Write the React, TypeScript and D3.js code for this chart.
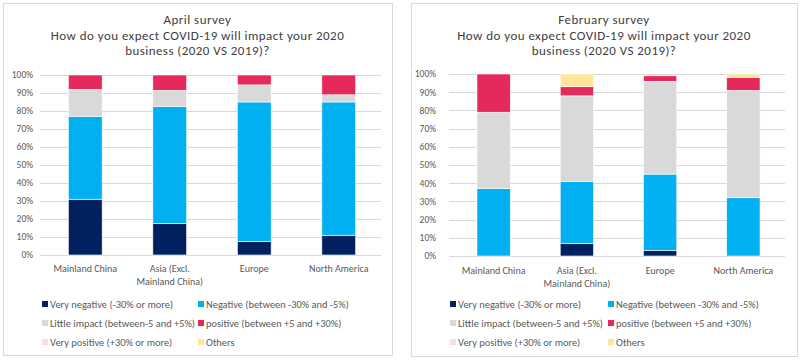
import React from 'react';
import * as d3 from 'd3';

const regionLabels = [['Mainland China'], ['Asia (Excl.', 'Mainland China)'], ['Europe'], ['North America']];
const regions = ['Mainland China', 'Asia (Excl. Mainland China)', 'Europe', 'North America'];

const seriesNames = [
  'Very negative (-30% or more)',
  'Negative (between -30% and -5%)',
  'Little impact (between-5 and +5%)',
  'positive (between +5 and +30%)',
  'Very positive (+30% or more)',
  'Others',
];
const seriesColors = ['#002060', '#00B0F0', '#D9D9D9', '#E6295B', '#FADCE4', '#FFE699'];

// April survey
const aprilVeryNegative = [31, 17.5, 7.5, 11];
const aprilNegative = [46, 65, 77.5, 74];
const aprilLittle = [15, 9, 9.5, 4];
const aprilPositive = [8, 8.5, 5.5, 11];
const aprilVeryPositive = [0, 0, 0, 0];
const aprilOthers = [0, 0, 0, 0];

// February survey
const febVeryNegative = [0, 7, 3, 0];
const febNegative = [37, 34, 42, 32];
const febLittle = [42, 47, 51, 59];
const febPositive = [21, 5, 3, 7];
const febVeryPositive = [0, 0, 0, 0];
const febOthers = [0, 7, 0, 2];

const yTicks = [0, 10, 20, 30, 40, 50, 60, 70, 80, 90, 100];

const FONT = 'Calibri, Carlito, Lato, sans-serif';
const TEXT = '#595959';

interface Layout {
  box: [number, number, number, number];
  plotX: [number, number];
  plotY: [number, number];
  tickEnd: number;
  catY: number;
  legendX: [number, number];
  legendY: number[];
}

interface PanelProps {
  title: string[];
  series: number[][];
  layout: Layout;
}

const Panel: React.FC<PanelProps> = ({ title, series, layout }) => {
  const [bx, by, bw, bh] = layout.box;
  const x = d3.scaleBand<string>().domain(regions).range(layout.plotX).paddingInner(0.6).paddingOuter(0.3);
  const y = d3.scaleLinear().domain([0, 100]).range(layout.plotY);

  const rows = regions.map((r, i) => {
    const row: Record<string, number | string> = { region: r };
    seriesNames.forEach((s, k) => (row[s] = series[k][i]));
    return row;
  });
  const stacked = d3.stack<Record<string, number | string>>().keys(seriesNames)(rows);
  const cx = bx + bw / 2;

  return (
    <g>
      <rect x={bx + 0.5} y={by + 0.5} width={bw} height={bh} fill="#fff" stroke="#D9D9D9" />
      {title.map((t, i) => (
        <text key={i} x={cx} y={by + 16.5 + i * 15.6} dy="0.35em" textAnchor="middle" fontSize={13} letterSpacing={0.45} fill="#404040">
          {t}
        </text>
      ))}
      {yTicks.map((t) => (
        <g key={t}>
          <line x1={layout.plotX[0] - 3} x2={layout.plotX[1]} y1={Math.round(y(t)) + 0.5} y2={Math.round(y(t)) + 0.5} stroke="#D9D9D9" />
          <text x={layout.tickEnd} y={y(t)} dy="0.35em" textAnchor="end" fontSize={9.5} fill={TEXT}>
            {t}%
          </text>
        </g>
      ))}
      {stacked.map((layer, k) => (
        <g key={layer.key} fill={seriesColors[k]}>
          {layer.map((d, i) =>
            d[1] - d[0] > 0 ? (
              <rect
                key={i}
                x={x(regions[i])}
                width={x.bandwidth()}
                y={y(d[1])}
                height={y(d[0]) - y(d[1])}
                stroke="#fff"
                strokeWidth={0.6}
              />
            ) : null
          )}
        </g>
      ))}
      {regionLabels.map((lines, i) => (
        <text key={i} textAnchor="middle" fontSize={10} fill={TEXT}>
          {lines.map((l, j) => (
            <tspan key={j} x={(x(regions[i]) ?? 0) + x.bandwidth() / 2} y={layout.catY + j * 13}>
              {l}
            </tspan>
          ))}
        </text>
      ))}
      {seriesNames.map((s, k) => {
        const lx = layout.legendX[k % 2];
        const ly = layout.legendY[Math.floor(k / 2)];
        return (
          <g key={s}>
            <rect x={lx} y={ly - 3} width={6} height={6} fill={seriesColors[k]} />
            <text x={lx + 8} y={ly} dy="0.35em" fontSize={10.4} fill={TEXT}>
              {s}
            </text>
          </g>
        );
      })}
    </g>
  );
};

const App: React.FC = () => {
  const april = [aprilVeryNegative, aprilNegative, aprilLittle, aprilPositive, aprilVeryPositive, aprilOthers];
  const feb = [febVeryNegative, febNegative, febLittle, febPositive, febVeryPositive, febOthers];
  return (
    <svg width={800} height={360} style={{ position: 'absolute', left: 0, top: 0, fontFamily: FONT }}>
      <rect width={800} height={360} fill="#fff" />
      <Panel
        title={['April survey', 'How do you expect COVID-19 will impact your 2020', 'business (2020 VS 2019)?']}
        series={april}
        layout={{
          box: [3, 3, 389, 352],
          plotX: [43, 381],
          plotY: [255, 75],
          tickEnd: 33,
          catY: 272,
          legendX: [42, 198],
          legendY: [304, 323, 342],
        }}
      />
      <Panel
        title={['February survey', 'How do you expect COVID-19 will impact your 2020', 'business (2020 VS 2019)?']}
        series={feb}
        layout={{
          box: [411, 3, 386, 353],
          plotX: [452, 785],
          plotY: [256, 74],
          tickEnd: 436,
          catY: 274,
          legendX: [450, 608],
          legendY: [304, 323, 342],
        }}
      />
    </svg>
  );
};

export default App;
